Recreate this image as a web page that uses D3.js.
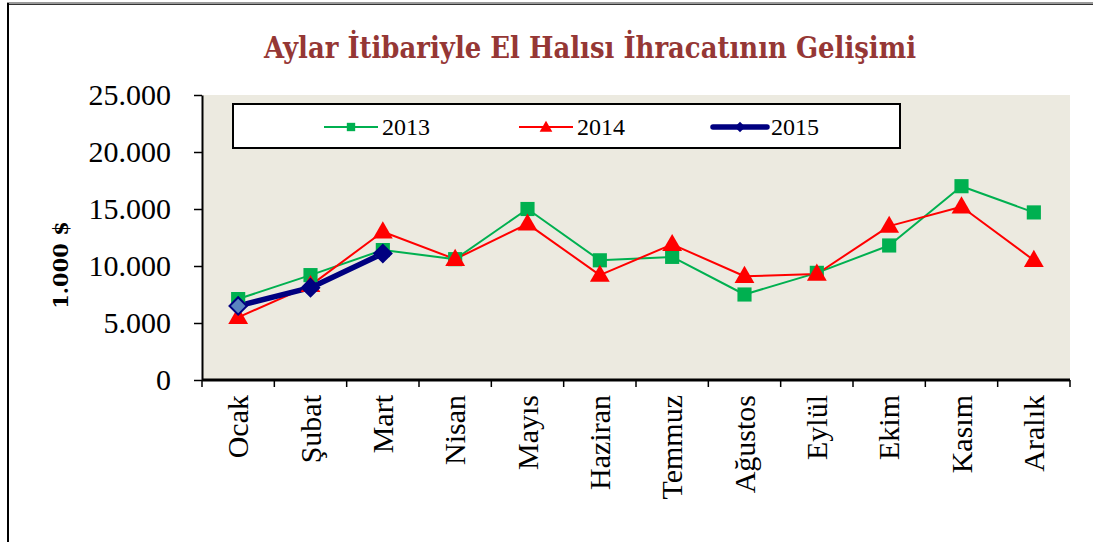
<!DOCTYPE html>
<html>
<head>
<meta charset="utf-8">
<script src="https://cdn.jsdelivr.net/npm/d3@7"></script>
<style>
  body { margin: 0; background: #fff; }
  svg { display: block; }
</style>
</head>
<body>
<div id="chart"></div>
<script>
var w = 1093;
var h = 542;

// data (1.000 $)
var months = ["Ocak", "Şubat", "Mart", "Nisan", "Mayıs", "Haziran", "Temmuz", "Ağustos", "Eylül", "Ekim", "Kasım", "Aralık"];
var years = ["2013", "2014", "2015"];
var v2013 = [7100, 9200, 11400, 10600, 15000, 10500, 10800, 7500, 9400, 11800, 17000, 14700];
var v2014 = [5500, 8300, 13000, 10600, 13700, 9200, 11900, 9100, 9300, 13500, 15200, 10500];
var v2015 = [6500, 8100, 11100];
var yTicks = [0, 5000, 10000, 15000, 20000, 25000];

var margin = {top: 95, right: 23, bottom: 162, left: 202};

var svg = d3.select("#chart")
            .append("svg")
            .attr("width", w)
            .attr("height", h);

// outer chart frame (top and left edges are the only visible ones)
svg.append("line").attr("x1", 7).attr("x2", w).attr("y1", 3).attr("y2", 3)
   .attr("stroke", "#9a9a9a").attr("stroke-width", 2);
svg.append("line").attr("x1", 7).attr("x2", w).attr("y1", 4.5).attr("y2", 4.5)
   .attr("stroke", "#333").attr("stroke-width", 1);
svg.append("line").attr("x1", 8).attr("x2", 8).attr("y1", 3).attr("y2", h)
   .attr("stroke", "#000").attr("stroke-width", 2);

svg.append("text")
   .attr("x", 590)
   .attr("y", 58)
   .attr("text-anchor", "middle")
   .attr("font-family", "'DejaVu Serif Condensed', 'DejaVu Serif', serif")
   .attr("font-weight", "bold")
   .attr("font-size", 29)
   .attr("textLength", 652)
   .attr("lengthAdjust", "spacingAndGlyphs")
   .attr("fill", "#953735")
   .text("Aylar İtibariyle El Halısı İhracatının Gelişimi");

var pw = w - margin.left - margin.right;
var ph = h - margin.top - margin.bottom;

var xScale = d3.scaleBand()
               .domain(months)
               .range([margin.left, margin.left + pw]);

var yScale = d3.scaleLinear()
               .domain([0, 25000])
               .range([margin.top + ph, margin.top]);

svg.append("rect")
   .attr("x", margin.left)
   .attr("y", margin.top)
   .attr("width", pw)
   .attr("height", ph)
   .attr("fill", "#ECEAE0");

var fmt = function(d) { return d === 0 ? "0" : d3.format(",")(d).replace(/,/g, "."); };

var yAxis = svg.append("g")
               .attr("transform", "translate(" + margin.left + ",0)")
               .call(d3.axisLeft(yScale).tickValues(yTicks).tickFormat(fmt).tickSize(8).tickSizeOuter(0));
yAxis.select(".domain").attr("stroke-width", 2);
yAxis.selectAll(".tick line").attr("stroke-width", 1.5);
yAxis.selectAll("text")
     .attr("font-family", "'Liberation Serif', serif")
     .attr("font-size", 30)
     .attr("fill", "#000")
     .attr("x", -31)
     .attr("dy", "0.33em");

// x axis: ticks on category boundaries
var xAxis = svg.append("g")
               .attr("transform", "translate(0," + (margin.top + ph) + ")");
xAxis.append("line")
     .attr("x1", margin.left).attr("x2", margin.left + pw)
     .attr("stroke", "#000").attr("stroke-width", 3);
xAxis.selectAll(".bt")
     .data(d3.range(months.length + 1))
     .enter()
     .append("line")
     .attr("x1", function(i) { return margin.left + i * xScale.bandwidth(); })
     .attr("x2", function(i) { return margin.left + i * xScale.bandwidth(); })
     .attr("y1", 0).attr("y2", 7)
     .attr("stroke", "#000").attr("stroke-width", 1.5);
xAxis.selectAll(".ml")
     .data(months)
     .enter()
     .append("text")
     .attr("transform", function(d) {
        return "translate(" + (xScale(d) + xScale.bandwidth() / 2 + 10) + ",15) rotate(-90)";
     })
     .attr("text-anchor", "end")
     .attr("font-family", "'Liberation Serif', serif")
     .attr("font-size", 30)
     .attr("fill", "#000")
     .text(function(d) { return d; });

svg.append("text")
   .attr("transform", "translate(68,265) rotate(-90)")
   .attr("text-anchor", "middle")
   .attr("font-family", "'DejaVu Serif', serif")
   .attr("font-weight", "bold")
   .attr("font-size", 21)
   .attr("fill", "#000")
   .text("1.000 $");

var cx = function(d, i) { return xScale(months[i]) + xScale.bandwidth() / 2; };
var line = d3.line()
             .x(function(d, i) { return cx(d, i); })
             .y(function(d) { return yScale(d); });

var series = [
  {vals: v2013, color: "#00B050", width: 2, shape: d3.symbolSquare, size: 200, rot: 0},
  {vals: v2014, color: "#FF0000", width: 2, shape: d3.symbolTriangle, size: 170, rot: 0},
  {vals: v2015, color: "#000080", width: 5.5, shape: d3.symbolSquare, size: 150, rot: 45}
];

series.forEach(function(s, si) {
  svg.append("path")
     .datum(s.vals)
     .attr("d", line)
     .attr("fill", "none")
     .attr("stroke", s.color)
     .attr("stroke-width", s.width)
     .attr("stroke-linejoin", "round");
});

series.forEach(function(s, si) {
  svg.selectAll(".m" + si)
     .data(s.vals)
     .enter()
     .append("path")
     .attr("d", d3.symbol().type(s.shape).size(s.size))
     .attr("transform", function(d, i) {
        var dy = s.shape === d3.symbolTriangle ? 1 : 0;
        return "translate(" + cx(d, i) + "," + (yScale(d) + dy) + ") rotate(" + s.rot + ")";
     })
     .attr("fill", function(d, i) { return (si === 2 && i === 0) ? "#5A84C0" : s.color; })
     .attr("stroke", si === 2 ? "#000080" : "none")
     .attr("stroke-width", 2);
});

// legend
var lg = svg.append("g");
lg.append("rect")
  .attr("x", 233).attr("y", 104)
  .attr("width", 667).attr("height", 44)
  .attr("fill", "#fff")
  .attr("stroke", "#000")
  .attr("stroke-width", 2);

var legendX = [324, 519, 713];
years.forEach(function(y, i) {
  var s = series[i];
  var g = lg.append("g").attr("transform", "translate(" + legendX[i] + ",127)");
  g.append("line")
   .attr("x1", 0).attr("x2", 54)
   .attr("stroke", s.color)
   .attr("stroke-width", i === 2 ? 5.5 : 2)
   .attr("stroke-linecap", i === 2 ? "round" : "butt");
  g.append("path")
   .attr("d", d3.symbol().type(s.shape).size(i === 2 ? 55 : 70))
   .attr("transform", "translate(27," + (i === 1 ? 1 : 0) + ") rotate(" + s.rot + ")")
   .attr("fill", s.color);
  g.append("text")
   .attr("x", 58)
   .attr("dy", "0.35em")
   .attr("font-family", "'Liberation Serif', serif")
   .attr("font-size", 24)
   .attr("fill", "#000")
   .text(y);
});
</script>
</body>
</html>
